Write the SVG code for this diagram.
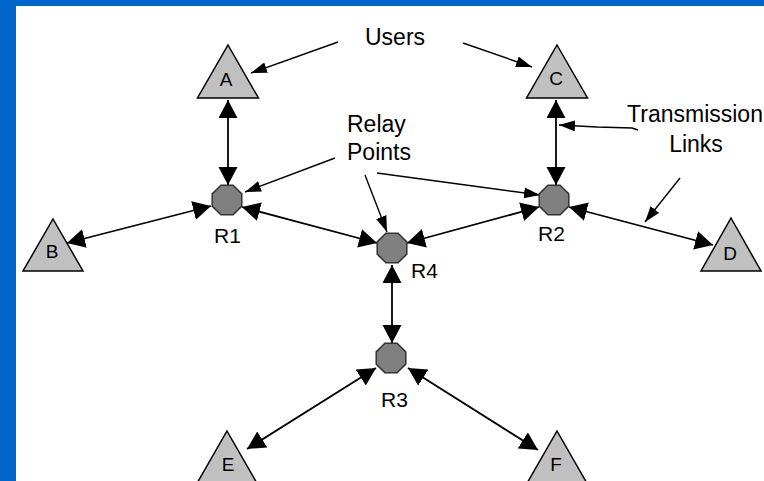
<svg xmlns="http://www.w3.org/2000/svg" width="764" height="481" viewBox="0 0 764 481">
<defs>
<style>
.bg{fill:#ffffff}
.frame{fill:#0066CC}
.tri{fill:#C0C0C0;stroke:#000;stroke-width:1.5;stroke-linejoin:miter}
.oct{fill:#808080;stroke:#333;stroke-width:1.5}
.link{stroke:#000;stroke-width:1.8;fill:none;marker-start:url(#big);marker-end:url(#big)}
.ann{stroke:#000;stroke-width:1.4;fill:none;marker-end:url(#small)}
.lbl{font-family:"Liberation Sans",Arial,sans-serif;font-size:23px;fill:#000}
.rl{font-family:"Liberation Sans",Arial,sans-serif;font-size:21px;fill:#000}
.nl{font-family:"Liberation Sans",Arial,sans-serif;font-size:19px;fill:#000;text-anchor:middle}
</style>
<marker id="big" markerUnits="userSpaceOnUse" markerWidth="20" markerHeight="20" refX="18" refY="9.5" orient="auto-start-reverse" viewBox="0 0 20 20">
<path d="M0,0 L18,9.5 L0,19 z" fill="#000"/>
</marker>
<marker id="small" markerUnits="userSpaceOnUse" markerWidth="18" markerHeight="12" refX="16" refY="5.5" orient="auto" viewBox="0 0 18 12">
<path d="M0,0 L16,5.5 L0,11 z" fill="#000"/>
</marker>
</defs>
<rect class="bg" x="0" y="0" width="764" height="481"/>
<rect class="frame" x="0" y="0" width="764" height="6"/>
<rect class="frame" x="0" y="0" width="16" height="481"/>

<g id="connectors">
<line class="link" x1="228" y1="100" x2="228" y2="185"/>
<line class="link" x1="556" y1="100" x2="556" y2="185"/>
<line class="link" x1="67" y1="243" x2="211" y2="206"/>
<line class="link" x1="242" y1="207" x2="377" y2="243"/>
<line class="link" x1="407" y1="243" x2="539" y2="207"/>
<line class="link" x1="569" y1="207" x2="713" y2="245"/>
<line class="link" x1="392" y1="265" x2="392" y2="343"/>
<line class="link" x1="376" y1="368" x2="247" y2="449"/>
<line class="link" x1="408" y1="368" x2="538" y2="450"/>
<line class="ann" x1="338" y1="42" x2="251" y2="73"/>
<line class="ann" x1="463" y1="43" x2="532" y2="67"/>
<line class="ann" x1="335" y1="158" x2="245" y2="192"/>
<line class="ann" x1="365" y1="175" x2="387" y2="232"/>
<line class="ann" x1="377" y1="173" x2="540" y2="195"/>
<polyline class="ann" points="638,130 632,128 597,127 559,125"/>
<line class="ann" x1="680" y1="178" x2="645" y2="222"/>
</g>

<g id="A"><polygon class="tri" points="228,45 258.5,98 197.5,98"/><text class="nl" x="226" y="86">A</text></g>
<g id="C"><polygon class="tri" points="557,45 587.5,98 526.5,98"/><text class="nl" x="556" y="85">C</text></g>
<g id="B"><polygon class="tri" points="53,219 83,271 23,271"/><text class="nl" x="52" y="258">B</text></g>
<g id="D"><polygon class="tri" points="731,218 761,271 701,271"/><text class="nl" x="730" y="260">D</text></g>
<g id="E"><polygon class="tri" points="227,431 258,485 196,485"/><text class="nl" x="228" y="471">E</text></g>
<g id="F"><polygon class="tri" points="557,431 588,485 526,485"/><text class="nl" x="556" y="471">F</text></g>

<g id="R1"><polygon class="oct" points="233.1,185.2 241.8,193.9 241.8,206.1 233.1,214.8 220.9,214.8 212.2,206.1 212.2,193.9 220.9,185.2"/><text class="rl" x="214" y="243">R1</text></g>
<g id="R2"><polygon class="oct" points="560.1,185.2 568.8,193.9 568.8,206.1 560.1,214.8 547.9,214.8 539.2,206.1 539.2,193.9 547.9,185.2"/><text class="rl" x="538" y="241">R2</text></g>
<g id="R4"><polygon class="oct" points="398.1,233.2 406.8,241.9 406.8,254.1 398.1,262.8 385.9,262.8 377.2,254.1 377.2,241.9 385.9,233.2"/><text class="rl" x="411" y="278">R4</text></g>
<g id="R3"><polygon class="oct" points="397.1,343.2 405.8,351.9 405.8,364.1 397.1,372.8 384.9,372.8 376.2,364.1 376.2,351.9 384.9,343.2"/><text class="rl" x="381" y="407">R3</text></g>

<g id="label-users"><text class="lbl" x="365" y="45">Users</text></g>
<g id="label-relay"><text class="lbl" x="347" y="132">Relay</text><text class="lbl" x="347" y="160">Points</text></g>
<g id="label-links"><text class="lbl" x="695" y="122" text-anchor="middle">Transmission</text><text class="lbl" x="696" y="152" text-anchor="middle">Links</text></g>
</svg>
